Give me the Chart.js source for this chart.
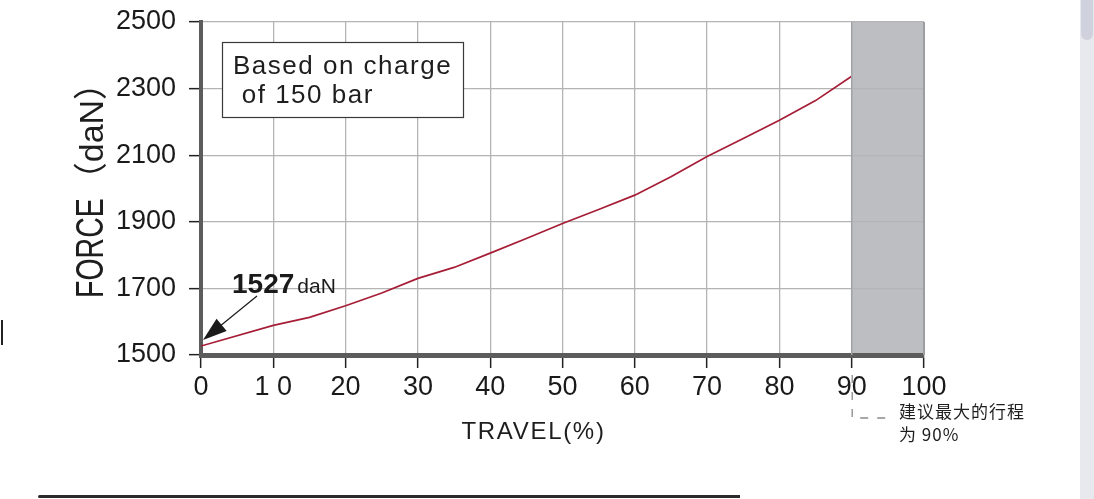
<!DOCTYPE html>
<html>
<head>
<meta charset="utf-8">
<script src="https://cdn.jsdelivr.net/npm/chart.js@4.4.1/dist/chart.umd.min.js"></script>
<style>
  html, body { margin: 0; padding: 0; background: #fff; overflow: hidden; width: 1094px; height: 499px; }
  #wrap { position: relative; width: 1094px; height: 499px; }
  canvas { position: absolute; left: 0; top: 0; }
  .sb { position: absolute; left: 1080px; top: 0; width: 14px; height: 499px; background: #e8e9ee; }
  .thumb { position: absolute; left: 1081px; top: 0; width: 12px; height: 40px; background: #cfd2dc; border-radius: 0 0 6px 6px; }
  .bline { position: absolute; left: 38px; top: 495px; width: 702px; height: 3px; background: #2b2b2b; border-radius: 2px 0 0 2px; }
  .lmark { position: absolute; left: 1px; top: 320px; width: 2px; height: 25px; background: #222; }
</style>
</head>
<body>
<div id="wrap">
  <canvas id="c" width="1094" height="499"></canvas>
  <div class="sb"></div><div class="thumb"></div>
  <div class="bline"></div>
  <div class="lmark"></div>
</div>
<script>
// ---- data ----
const travel = [0, 10, 15, 20, 25, 30, 35, 40, 45, 50, 55, 60, 65, 70, 75, 80, 85, 90];
const force  = [1527, 1589, 1613, 1648, 1686, 1730, 1763, 1806, 1850, 1895, 1937, 1980, 2035, 2096, 2150, 2205, 2264, 2337];
const xTickLabels = ['0', '1 0', '20', '30', '40', '50', '60', '70', '80', '90', '100'];
const yTickValues = [1500, 1700, 1900, 2100, 2300, 2500];
const startValue = 1527;
const recommendedMax = 90;
const noteLines = ['建议最大的行程', '为 90%'];
const boxLines = ['Based on charge', ' of 150 bar'];

const FONT = '"Liberation Sans", Arial, Helvetica, sans-serif';

const decor = {
  id: 'decor',
  beforeDraw(chart) {
    const {ctx, chartArea, scales} = chart;
    const x0 = scales.x.getPixelForValue(recommendedMax);
    const x1 = scales.x.getPixelForValue(100);
    ctx.save();
    ctx.fillStyle = '#bdbec2';
    ctx.fillRect(x0, chartArea.top, x1 - x0, chartArea.bottom - chartArea.top);
    ctx.restore();
  },
  afterDraw(chart) {
    const {ctx, chartArea, scales} = chart;
    const xs = scales.x, ys = scales.y;
    ctx.save();
    // right edge of shaded zone
    const xr = xs.getPixelForValue(100);
    ctx.strokeStyle = '#9c9da1';
    ctx.lineWidth = 2;
    ctx.beginPath(); ctx.moveTo(xr, chartArea.top); ctx.lineTo(xr, chartArea.bottom); ctx.stroke();
    const x90 = xs.getPixelForValue(recommendedMax);
    ctx.strokeStyle = '#a3a4a8'; ctx.lineWidth = 1.5;
    ctx.beginPath(); ctx.moveTo(x90, chartArea.top); ctx.lineTo(x90, chartArea.bottom); ctx.stroke();

    // annotation box
    const bx = chartArea.left + 21, by = chartArea.top + 20, bw = 241, bh = 75;
    ctx.fillStyle = '#fff';
    ctx.fillRect(bx, by, bw, bh);
    ctx.strokeStyle = '#3a3a3a'; ctx.lineWidth = 1.2;
    ctx.strokeRect(bx + 0.5, by + 0.5, bw, bh);
    ctx.fillStyle = '#1e1e1e';
    ctx.font = '26px ' + FONT;
    ctx.letterSpacing = '1.5px';
    ctx.textAlign = 'left'; ctx.textBaseline = 'alphabetic';
    ctx.fillText(boxLines[0], bx + 11, by + 32);
    ctx.fillText(boxLines[1], bx + 11, by + 61);
    ctx.letterSpacing = '0px';

    // start value label with arrow
    const px = xs.getPixelForValue(0), py = ys.getPixelForValue(startValue);
    ctx.fillStyle = '#1a1a1a';
    ctx.font = 'bold 28px ' + FONT;
    ctx.fillText(String(startValue), px + 31, py - 53);
    const w1527 = ctx.measureText(String(startValue)).width;
    ctx.font = '21px ' + FONT;
    ctx.fillText('daN', px + 31 + w1527 + 3, py - 53);
    const tipX = px + 2, tipY = py - 6;
    const tailX = px + 56, tailY = py - 50;
    const ang = Math.atan2(tailY - tipY, tailX - tipX);
    ctx.strokeStyle = '#1a1a1a'; ctx.lineWidth = 1.2;
    ctx.beginPath(); ctx.moveTo(tailX, tailY); ctx.lineTo(tipX + 15 * Math.cos(ang), tipY + 15 * Math.sin(ang)); ctx.stroke();
    const L = 24, H = 8;
    const bxp = tipX + L * Math.cos(ang), byp = tipY + L * Math.sin(ang);
    ctx.beginPath();
    ctx.moveTo(tipX, tipY);
    ctx.lineTo(bxp + H * Math.sin(ang), byp - H * Math.cos(ang));
    ctx.lineTo(bxp - H * Math.sin(ang), byp + H * Math.cos(ang));
    ctx.closePath(); ctx.fill();

    // y axis title
    ctx.save();
    ctx.translate(103, 298);
    ctx.rotate(-Math.PI / 2);
    ctx.fillStyle = '#1e1e1e';
    ctx.font = '38px ' + FONT;
    ctx.save(); ctx.scale(0.75, 1); ctx.fillText('FORCE', 0, 0); ctx.restore();
    const wF = ctx.measureText('FORCE').width * 0.75;
    ctx.font = '34px ' + FONT + ', "Noto Sans CJK SC"';
    ctx.fillText('（daN）', wF + 2, 0);
    ctx.restore();

    // x axis title
    ctx.fillStyle = '#1e1e1e';
    ctx.font = '24px ' + FONT;
    ctx.letterSpacing = '1.7px';
    ctx.textAlign = 'center';
    ctx.fillText('TRAVEL(%)', (chartArea.left + chartArea.right) / 2 - 29, 439);
    ctx.letterSpacing = '0px';

    // note
    ctx.textAlign = 'left';
    ctx.font = '17px "Noto Sans CJK SC", sans-serif';
    ctx.letterSpacing = '1px';
    ctx.fillStyle = '#1e1e1e';
    ctx.fillText(noteLines[0], 899, 418);
    ctx.fillText(noteLines[1], 899, 441);
    ctx.letterSpacing = '0px';

    // dashed L
    ctx.strokeStyle = '#8a8a8a'; ctx.lineWidth = 1.3;
    ctx.setLineDash([8, 9]);
    ctx.beginPath();
    ctx.moveTo(x90 + 0.5, 375); ctx.lineTo(x90 + 0.5, 418); ctx.lineTo(x90 + 38, 418);
    ctx.stroke();
    ctx.setLineDash([]);
    ctx.restore();
  }
};

new Chart(document.getElementById('c'), {
  type: 'line',
  data: {
    datasets: [{
      data: travel.map((t, i) => ({x: t, y: force[i]})),
      borderColor: '#a61d36',
      borderWidth: 1.7,
      pointRadius: 0,
      tension: 0,
      fill: false
    }]
  },
  options: {
    responsive: false,
    devicePixelRatio: 1,
    animation: false,
    layout: { padding: { left: 0, right: 170, top: 22, bottom: 0 } },
    plugins: { legend: { display: false }, tooltip: { enabled: false } },
    scales: {
      x: {
        type: 'linear', min: 0, max: 100,
        afterFit(s) { s.height = 144; s.paddingLeft = 0; s.paddingRight = 0; },
        afterBuildTicks(s) { s.ticks = xTickLabels.map((_, i) => ({value: i * 10})); },
        ticks: {
          autoSkip: false, maxRotation: 0,
          callback: (v) => xTickLabels[Math.round(v / 10)],
          color: '#1a1a1a', font: { family: FONT, size: 27 }, padding: 3
        },
        grid: { color: '#b4b4b4', lineWidth: 1.3, tickColor: '#222', tickLength: 13, tickWidth: 1.5 },
        border: { color: '#5c5c5c', width: 5 }
      },
      y: {
        type: 'linear', min: 1500, max: 2500,
        afterFit(s) { s.width = 201; s.paddingTop = 0; s.paddingBottom = 0; },
        afterBuildTicks(s) { s.ticks = yTickValues.map(v => ({value: v})); },
        ticks: { color: '#1a1a1a', font: { family: FONT, size: 27 }, padding: 13, callback: (v) => String(v) },
        grid: { color: '#b4b4b4', lineWidth: 1.3, tickColor: '#222', tickLength: 12, tickWidth: 1.5 },
        border: { color: '#5c5c5c', width: 4 }
      }
    }
  },
  plugins: [decor]
});
</script>
</body>
</html>
